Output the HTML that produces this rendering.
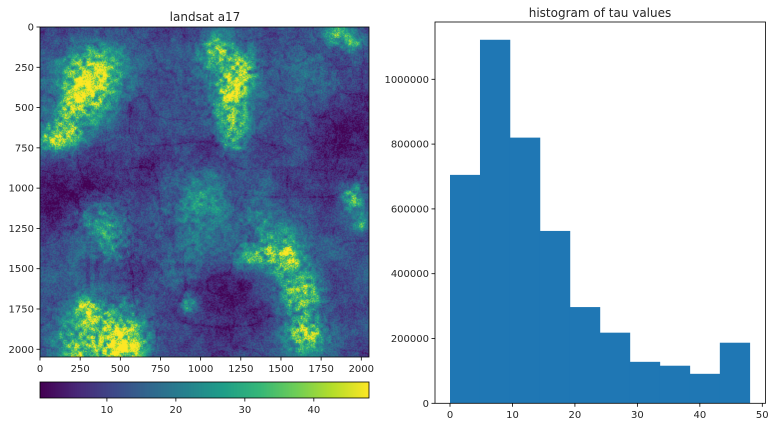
<!DOCTYPE html>
<html><head><meta charset="utf-8"><style>
html,body{margin:0;padding:0;background:#fff;}
#wrap{position:relative;width:775px;height:427px;overflow:hidden;font-family:"Liberation Sans","DejaVu Sans",sans-serif;}
canvas{position:absolute;}
svg{position:absolute;left:0;top:0;}
text{font-family:"DejaVu Sans","Liberation Sans",sans-serif;font-size:10px;fill:#262626;}
</style></head><body>
<div id="wrap">
<canvas id="img" width="330" height="330" style="left:40px;top:27px;width:329px;height:330px"></canvas>
<canvas id="cbar" width="329" height="16" style="left:40px;top:382px;width:329px;height:16px"></canvas>
<svg id="svg" width="775" height="427"></svg>
</div>
<script>
// ---- histogram data ----
const binEdges = [0,4.8,9.6,14.4,19.2,24,28.8,33.6,38.4,43.2,48];
const binCounts = [705000,1122000,820000,532000,297000,218000,128000,116000,91000,187000];
const histXTicks = [0,10,20,30,40,50];
const histYTicks = [0,200000,400000,600000,800000,1000000];
const imgTicks = [0,250,500,750,1000,1250,1500,1750,2000];
const cbarTicks = [10,20,30,40];
// bright blobs in image coords: x, y, radius, strength
const blobX = [330,250,150,60,1100,1250,1180,1200,1200,1850,1950,1950,2000,1550,1300,1620,1650,450,290,230,520,1000,480,360,930,1450,1420,150,800,1150,1750];
const blobY = [300,470,650,700,150,260,400,560,700,40,100,1050,1210,1420,1420,1650,1900,1900,1750,2030,2000,1100,1350,1200,1720,1420,1250,1900,1500,350,300];
const blobR = [170,130,110,60,100,100,80,100,70,70,50,70,50,100,70,120,120,180,80,100,100,260,140,140,50,80,120,100,150,200,150];
const blobS = [30,26,26,22,28,26,24,24,20,24,20,24,20,26,22,28,28,32,24,24,24,9,12,12,20,22,12,10,6,8,6];
const darkX = [1900,700,60,1200,1100,600,300];
const darkY = [720,880,1100,1700,700,1550,1050];
const darkR = [220,80,120,200,150,150,150];
const vmin = 0.3, vmax = 48;

const NS='http://www.w3.org/2000/svg';
const svg=document.getElementById('svg');
function mk(tag,attrs,name,txt){const e=document.createElementNS(NS,tag);for(const k in attrs)e.setAttribute(k,attrs[k]);


if(txt!==undefined)e.textContent=txt;svg.appendChild(e);return e;}

const vir=[[68,1,84],[72,40,120],[62,73,137],[49,104,142],[38,130,142],[31,158,137],[53,183,121],[110,206,88],[181,222,43],[253,231,37]];
function cmap(t){t=Math.max(0,Math.min(1,t));const f=t*9;const i=Math.min(8,Math.floor(f));const u=f-i;const a=vir[i],b=vir[i+1];
return [a[0]+(b[0]-a[0])*u,a[1]+(b[1]-a[1])*u,a[2]+(b[2]-a[2])*u];}
function hash(x,y){let h=(x*374761393+y*668265263)|0;h=(h^(h>>>13))*1274126177|0;return ((h^(h>>>16))>>>0)/4294967295;}
function vnoise(x,y){const xi=Math.floor(x),yi=Math.floor(y),u=x-xi,v=y-yi;const s=t=>t*t*(3-2*t);
const a=hash(xi,yi),b=hash(xi+1,yi),c=hash(xi,yi+1),d=hash(xi+1,yi+1);
return a+(b-a)*s(u)+(c-a)*s(v)+(a-b-c+d)*s(u)*s(v);}

(function(){const c=document.getElementById('img').getContext('2d');const W=330,H=330;const id=c.createImageData(W,H);
for(let py=0;py<H;py++)for(let px=0;px<W;px++){const X=px/W*2048,Y=py/H*2048;
const n1=vnoise(X/200,Y/200),n2=vnoise(X/70+7,Y/70+3),n3=vnoise(X/25+11,Y/25+5);
const vein=Math.abs(vnoise(X/160+20,Y/160+9)-0.5);
let v=12+7*(n1-0.5)+5*(n2-0.5)+4*(n3-0.5)+8*(hash(px,py)-0.5)-(vein<0.03?3:0);
let bl=0;
for(let k=0;k<blobX.length;k++){const dx=X-blobX[k],dy=Y-blobY[k];const g=Math.exp(-(dx*dx+dy*dy)/(2*blobR[k]*blobR[k]*0.55));
bl+=blobS[k]*g;}
v+=bl*(0.5+0.9*n3)*(0.7+0.6*hash(px+3,py+9));
for(let k=0;k<darkX.length;k++){const dx=X-darkX[k],dy=Y-darkY[k];v-=6*Math.exp(-(dx*dx+dy*dy)/(2*darkR[k]*darkR[k]));}
const col=cmap((v-vmin)/(vmax-vmin));const o=(py*W+px)*4;id.data[o]=col[0];id.data[o+1]=col[1];id.data[o+2]=col[2];id.data[o+3]=255;}
c.putImageData(id,0,0);})();
(function(){const c=document.getElementById('cbar').getContext('2d');for(let i=0;i<329;i++){const col=cmap(i/328);
c.fillStyle=`rgb(${col[0]|0},${col[1]|0},${col[2]|0})`;c.fillRect(i,0,1,16);}})();

const ix=v=>40+v/2048*329, iy=v=>27+v/2048*330;
mk('text',{x:205,y:21,'text-anchor':'middle',style:'font-size:12px'},'left-title','landsat a17');
mk('rect',{x:40,y:27,width:329,height:330,fill:'none',stroke:'#000','stroke-width':0.8},'image-frame');
imgTicks.forEach(t=>{
 mk('line',{x1:ix(t),x2:ix(t),y1:357,y2:360.5,stroke:'#000','stroke-width':0.8},'image-x-tick');
 mk('text',{x:ix(t),y:372,'text-anchor':'middle'},'image-x-tick-label',t);
 mk('line',{x1:36.5,x2:40,y1:iy(t),y2:iy(t),stroke:'#000','stroke-width':0.8},'image-y-tick');
 mk('text',{x:34,y:iy(t)+3.5,'text-anchor':'end'},'image-y-tick-label',t);
});
const cx=v=>40+(v-vmin)/(vmax-vmin)*329;
mk('rect',{x:40,y:382,width:329,height:16,fill:'none',stroke:'#000','stroke-width':0.8},'colorbar-frame');
cbarTicks.forEach(t=>{
 mk('line',{x1:cx(t),x2:cx(t),y1:398,y2:401.5,stroke:'#000','stroke-width':0.8},'colorbar-tick');
 mk('text',{x:cx(t),y:413,'text-anchor':'middle'},'colorbar-tick-label',t);
});

const hx=v=>450+v*6.246, hy=v=>403.3-v*324e-6;
mk('text',{x:600,y:17,'text-anchor':'middle',style:'font-size:12px'},'histogram-title','histogram of tau values');
binCounts.forEach((n,i)=>{
 mk('rect',{x:hx(binEdges[i]),y:hy(n),width:hx(binEdges[i+1])-hx(binEdges[i])+0.3,height:hy(0)-hy(n),fill:'#1f77b4'},'histogram-bar-'+i);
});
mk('rect',{x:435,y:22,width:330.5,height:381.3,fill:'none',stroke:'#000','stroke-width':0.8},'histogram-frame');
histXTicks.forEach(t=>{
 mk('line',{x1:hx(t),x2:hx(t),y1:403.3,y2:406.8,stroke:'#000','stroke-width':0.8},'hist-x-tick');
 mk('text',{x:hx(t),y:418,'text-anchor':'middle'},'hist-x-tick-label',t);
});
histYTicks.forEach(t=>{
 mk('line',{x1:431.5,x2:435,y1:hy(t),y2:hy(t),stroke:'#000','stroke-width':0.8},'hist-y-tick');
 mk('text',{x:429,y:hy(t)+3.5,'text-anchor':'end'},'hist-y-tick-label',t);
});
</script>
</body></html>
